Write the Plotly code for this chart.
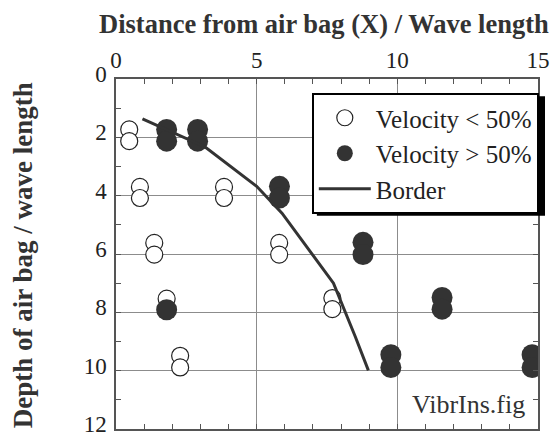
import plotly.graph_objects as go

# Data
open_x = [0.47, 0.47, 0.85, 0.85, 3.84, 3.84, 1.36, 1.36, 5.80, 5.80, 1.80, 7.69, 7.69, 2.28, 2.28]
open_y = [1.73, 2.13, 3.70, 4.08, 3.70, 4.08, 5.62, 6.02, 5.62, 6.02, 7.53, 7.51, 7.89, 9.49, 9.89]

fill_x = [1.80, 1.80, 2.90, 2.90, 5.81, 5.81, 8.78, 8.78, 1.80, 11.59, 11.59, 9.77, 9.77, 14.79, 14.79]
fill_y = [1.73, 2.13, 1.73, 2.13, 3.68, 4.08, 5.60, 6.02, 7.91, 7.49, 7.89, 9.45, 9.89, 9.45, 9.89]

border_x = [0.94, 3.17, 5.00, 5.90, 7.73, 8.08, 8.50, 8.97]
border_y = [1.37, 2.33, 3.68, 4.60, 7.00, 7.80, 8.82, 9.99]

x_ticks = [0, 5, 10, 15]
y_ticks = [0, 2, 4, 6, 8, 10, 12]

FONT = "Liberation Serif, Times New Roman, serif"
DARK = "#333333"

fig = go.Figure()
fig.add_trace(go.Scatter(
    x=open_x, y=open_y, mode="markers", name="Velocity < 50%",
    marker=dict(symbol="circle", size=17, color="white", line=dict(color="#222222", width=1.2)),
))
fig.add_trace(go.Scatter(
    x=fill_x, y=fill_y, mode="markers", name="Velocity > 50%",
    marker=dict(symbol="circle", size=21, color=DARK, line=dict(width=0)),
))
fig.add_trace(go.Scatter(
    x=border_x, y=border_y, mode="lines", name="Border",
    line=dict(color=DARK, width=3),
))

axis_common = dict(
    showline=True, linecolor="#555555", linewidth=1.5, mirror="ticks",
    showgrid=True, gridcolor="#8c8c8c", gridwidth=1,
    ticks="inside", ticklen=5, tickcolor="#555555", tickwidth=1,
    tickfont=dict(family=FONT, size=23, color="#222222"),
    zeroline=False, automargin=False,
)

fig.update_xaxes(
    range=[0, 15], side="top", tickmode="array", tickvals=x_ticks,
    ticktext=[str(v) for v in x_ticks],
    minor=dict(dtick=1, ticks="inside", ticklen=5, tickcolor="#555555", showgrid=False),
    **axis_common,
)
fig.update_yaxes(
    range=[12, 0], tickmode="array", tickvals=y_ticks,
    ticktext=[str(v) for v in y_ticks], ticklabelstandoff=3, ticklabelshift=5,
    minor=dict(dtick=1, ticks="inside", ticklen=5, tickcolor="#555555", showgrid=False),
    **axis_common,
)

fig.update_layout(
    width=550, height=436,
    margin=dict(l=108, r=20, t=71, b=15),
    plot_bgcolor="white", paper_bgcolor="white",
    font=dict(family=FONT, color="#222222"),
    showlegend=True,
    legend=dict(
        x=0.464, y=0.96, xanchor="left", yanchor="top",
        bgcolor="white", bordercolor="black", borderwidth=2,
        font=dict(family=FONT, size=25, color="#222222"),
        tracegroupgap=0, itemwidth=52,
    ),
    annotations=[
        dict(text="<b>Distance from air bag (X) / Wave length</b>", xref="paper", yref="paper",
             x=0.493, y=1.156, xanchor="center", yanchor="middle", showarrow=False,
             font=dict(family=FONT, size=26.5, color=DARK)),
        dict(text="<b>Depth of air bag / wave length</b>", xref="paper", yref="paper",
             x=-0.22, y=0.497, xanchor="center", yanchor="middle", textangle=-90, showarrow=False,
             font=dict(family=FONT, size=27, color=DARK)),
        dict(text="VibrIns.fig", xref="paper", yref="paper",
             x=0.974, y=0.07, xanchor="right", yanchor="middle", showarrow=False,
             font=dict(family=FONT, size=26, color=DARK)),
    ],
    shapes=[
        dict(type="rect", xref="paper", yref="paper", layer="above",
             x0=0.476, x1=1.0166, y0=0.609, y1=0.951,
             fillcolor="black", line=dict(width=0)),
    ],
)

fig.write_html("out.html")
